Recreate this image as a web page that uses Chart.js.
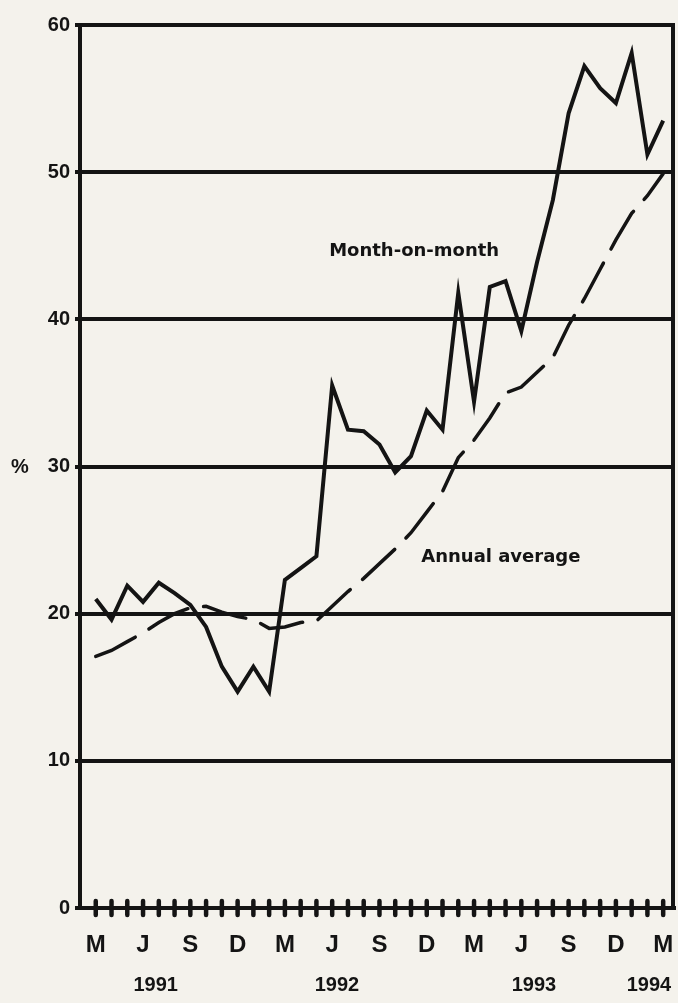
<!DOCTYPE html>
<html>
<head>
<meta charset="utf-8">
<script src="https://cdn.jsdelivr.net/npm/chart.js@4.4.1/dist/chart.umd.min.js"></script>
<style>
  html, body { margin: 0; padding: 0; background: #f4f2ec; }
  #wrap { width: 678px; height: 1003px; position: relative; }
</style>
</head>
<body>
<div id="wrap"><canvas id="chart"></canvas></div>
<script>
// months counted from March 1991 (0) to March 1994 (36)
const monthLabels = ["M", "J", "S", "D", "M", "J", "S", "D", "M", "J", "S", "D", "M"];
const yearLabels = ["1991", "1992", "1993", "1994"];

const monthOnMonth = [
  21.0, 19.6, 21.9, 20.8, 22.1, 21.4, 20.6, 19.1, 16.4, 14.7, 16.4, 14.7,
  22.3, 23.1, 23.9, 35.5, 32.5, 32.4, 31.5, 29.6, 30.7, 33.8, 32.5, 41.8,
  34.4, 42.2, 42.6, 39.2, 43.9, 48.1, 54.0, 57.2, 55.7, 54.7, 58.1, 51.2,
  53.5
];
const annualAverage = [
  17.1, 17.5, 18.1, 18.7, 19.4, 20.0, 20.4, 20.5, 20.1, 19.8, 19.6, 19.0,
  19.1, 19.4, 19.5, 20.5, 21.5, 22.4, 23.4, 24.4, 25.5, 26.9, 28.3, 30.6,
  31.8, 33.3, 35.0, 35.4, 36.4, 37.4, 39.6, 41.4, 43.4, 45.4, 47.2, 48.4,
  49.9
];

const ink = "#141414";
const font = "'DejaVu Sans', sans-serif";
const narrow = "'Liberation Sans', Arial, sans-serif";

// where the year captions and line names sit, in month / percent units
const yearAt = [3.8, 15.3, 27.8, 35.1];
const notes = [
  { text: "Month-on-month", x: 20.2, y: 44.6 },
  { text: "Annual average", x: 25.7, y: 23.8 },
];

const toPoints = (arr) => arr.map((v, i) => ({ x: i, y: v }));

const extras = {
  id: "extras",
  afterDraw(chart) {
    const { ctx, chartArea, scales: { x, y } } = chart;
    ctx.save();
    ctx.strokeStyle = ink;
    ctx.fillStyle = ink;

    // right-hand frame
    ctx.lineWidth = 4;
    ctx.beginPath();
    ctx.moveTo(chartArea.right - 2, chartArea.top - 2);
    ctx.lineTo(chartArea.right - 2, chartArea.bottom + 2);
    ctx.stroke();

    // month ticks across the zero line
    const y0 = y.getPixelForValue(0);
    ctx.lineWidth = 4.5;
    ctx.lineCap = "round";
    for (let m = 0; m < monthOnMonth.length; m++) {
      const px = x.getPixelForValue(m);
      ctx.beginPath();
      ctx.moveTo(px, y0 - 7);
      ctx.lineTo(px, y0 + 7);
      ctx.stroke();
    }

    // % sign
    ctx.font = "bold 20px " + narrow;
    ctx.textAlign = "left";
    ctx.textBaseline = "middle";
    ctx.fillText("%", 11, y.getPixelForValue(30) + 1);

    // years
    ctx.font = "bold 20px " + narrow;
    ctx.textAlign = "center";
    yearLabels.forEach((t, i) => {
      ctx.fillText(t, x.getPixelForValue(yearAt[i]), 985);
    });

    // series names
    ctx.font = "bold 18px " + font;
    notes.forEach((n) => {
      ctx.fillText(n.text, x.getPixelForValue(n.x), y.getPixelForValue(n.y));
    });
    ctx.restore();
  },
};

new Chart(document.getElementById("chart"), {
  type: "line",
  data: {
    datasets: [
      {
        label: "Month-on-month",
        data: toPoints(monthOnMonth),
        borderColor: ink,
        borderWidth: 4,
        pointRadius: 0,
        tension: 0,
        borderJoinStyle: "miter",
      },
      {
        label: "Annual average",
        data: toPoints(annualAverage),
        borderColor: ink,
        borderWidth: 3.5,
        borderDash: [44, 16],
        borderCapStyle: "round",
        pointRadius: 0,
        tension: 0,
      },
    ],
  },
  options: {
    responsive: true,
    maintainAspectRatio: false,
    animation: false,
    layout: { padding: { top: 25, right: 3, left: 0, bottom: 0 } },
    plugins: { legend: { display: false }, tooltip: { enabled: false } },
    scales: {
      x: {
        type: "linear",
        min: -1,
        max: 36.75,
        afterFit: (scale) => {
          scale.height = 95;
          scale.paddingLeft = 0;
          scale.paddingRight = 0;
        },
        grid: { display: false, drawTicks: false },
        border: { display: true, color: ink, width: 4 },
        ticks: {
          stepSize: 1,
          includeBounds: false,
          autoSkip: false,
          maxRotation: 0,
          padding: 23,
          color: ink,
          font: { family: narrow, weight: "bold", size: 24 },
          callback: (v) => (v >= 0 && v % 3 === 0 ? monthLabels[v / 3] : ""),
        },
      },
      y: {
        min: 0,
        max: 60,
        afterFit: (scale) => { scale.width = 80; },
        grid: { color: ink, lineWidth: 4, tickLength: 5 },
        border: { display: true, color: ink, width: 4 },
        ticks: {
          stepSize: 10,
          padding: 5,
          color: ink,
          font: { family: narrow, weight: "bold", size: 20 },
        },
      },
    },
  },
  plugins: [extras],
});
</script>
</body>
</html>
